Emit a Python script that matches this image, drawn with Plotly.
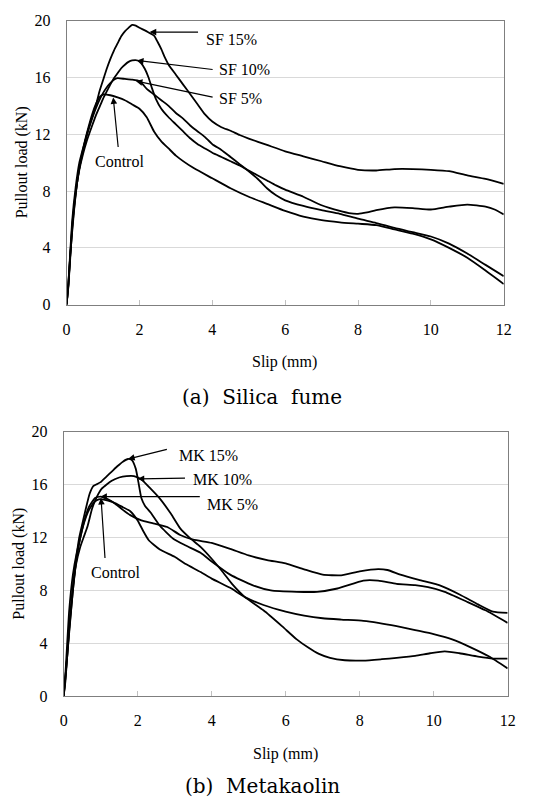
import plotly.graph_objects as go

# ---------------- (a) Silica fume ----------------
sf_ctrl_x = [0, 0.05, 0.1, 0.2, 0.3, 0.4, 0.5, 0.6, 0.7, 0.8, 0.9, 1.0, 1.2, 1.4, 1.6, 1.8, 2.0, 2.2, 2.4, 2.6,
             2.8, 3.0, 3.5, 4.0, 4.5, 5.0, 5.5, 6.0, 6.5, 7.0, 7.5, 8.0, 8.5, 9.0, 9.5, 10.0, 10.5, 11.0, 11.5, 12.0]
sf_ctrl_y = [0, 1.5, 3.5, 6.5, 8.8, 10.3, 11.5, 12.5, 13.4, 14.1, 14.6, 14.8, 14.75, 14.6, 14.4, 14.1, 13.8, 13.2,
             12.2, 11.5, 11.0, 10.5, 9.6, 8.9, 8.2, 7.6, 7.1, 6.6, 6.2, 5.95, 5.8, 5.7, 5.6, 5.3, 5.0, 4.6, 4.0,
             3.3, 2.4, 1.45]

sf5_x = [0, 0.05, 0.15, 0.25, 0.35, 0.45, 0.55, 0.7, 0.8, 0.9, 1.0, 1.1, 1.2, 1.3, 1.4, 1.6, 1.8, 2.0, 2.1, 2.2,
         2.4, 2.6, 2.8, 3.0, 3.2, 3.4, 3.6, 3.8, 4.0, 4.25, 4.5, 4.75, 5.0, 5.25, 5.5, 5.75, 6.0, 6.5, 7.0, 7.5,
         8.0, 8.5, 9.0, 9.5, 10.0, 10.5, 11.0, 11.5, 12.0]
sf5_y = [0, 1.3, 5.2, 7.8, 9.6, 10.8, 11.9, 13.1, 13.8, 14.4, 14.9, 15.3, 15.6, 15.85, 15.95, 15.9, 15.85, 15.75,
         15.5, 15.2, 14.8, 14.4, 14.0, 13.5, 13.1, 12.6, 12.2, 11.8, 11.3, 10.9, 10.4, 9.9, 9.4, 8.85, 8.2, 7.7,
         7.35, 6.95, 6.65, 6.4, 6.05, 5.75, 5.4, 5.1, 4.8, 4.3, 3.6, 2.8, 2.0]

sf10_x = [0, 0.05, 0.15, 0.25, 0.35, 0.45, 0.55, 0.7, 0.8, 0.9, 1.0, 1.1, 1.2, 1.3, 1.4, 1.5, 1.6, 1.7, 1.8, 1.95,
          2.05, 2.15, 2.25, 2.35, 2.45, 2.6, 2.8, 3.0, 3.2, 3.4, 3.6, 3.8, 4.0, 4.25, 4.5, 4.75, 5.0, 5.25, 5.5,
          5.75, 6.0, 6.5, 7.0, 7.5, 7.75, 8.0, 8.25, 8.5, 9.0, 9.5, 10.0, 10.5, 11.0, 11.5, 11.75, 12.0]
sf10_y = [0, 1.4, 5.4, 7.9, 9.5, 10.6, 11.5, 12.6, 13.3, 13.9, 14.5, 15.0, 15.5, 15.95, 16.3, 16.65, 16.9, 17.1,
          17.2, 17.2, 17.0, 16.6, 16.0, 15.2, 14.5, 13.8, 13.2, 12.7, 12.2, 11.7, 11.3, 11.0, 10.7, 10.4, 10.1,
          9.8, 9.45, 9.1, 8.75, 8.4, 8.1, 7.6, 7.0, 6.6, 6.45, 6.4, 6.5, 6.65, 6.85, 6.8, 6.7, 6.9, 7.05, 6.9,
          6.7, 6.35]

sf15_x = [0, 0.05, 0.15, 0.25, 0.35, 0.45, 0.55, 0.65, 0.8, 0.9, 1.0, 1.1, 1.2, 1.3, 1.4, 1.5, 1.6, 1.7, 1.8, 1.9,
          2.0, 2.2, 2.4, 2.5, 2.6, 2.7, 2.8, 3.0, 3.2, 3.4, 3.6, 3.8, 4.0, 4.25, 4.5, 4.75, 5.0, 5.5, 6.0, 6.5,
          7.0, 7.5, 8.0, 8.5, 9.0, 9.5, 10.0, 10.5, 11.0, 11.5, 12.0]
sf15_y = [0, 1.5, 5.8, 8.3, 10.0, 11.0, 11.9, 12.8, 14.0, 15.0, 15.8, 16.6, 17.3, 17.9, 18.4, 18.9, 19.25, 19.5,
          19.7, 19.65, 19.5, 19.25, 18.95, 18.5, 18.0, 17.4, 16.9, 16.2, 15.5, 14.8, 14.1, 13.4, 12.9, 12.5,
          12.25, 11.95, 11.7, 11.25, 10.8, 10.45, 10.1, 9.75, 9.5, 9.45, 9.55, 9.55, 9.5, 9.4, 9.1, 8.85, 8.5]

# ---------------- (b) Metakaolin ----------------
mk_ctrl_x = [0, 0.05, 0.15, 0.25, 0.35, 0.45, 0.55, 0.65, 0.75, 0.85, 0.95, 1.05, 1.2, 1.4, 1.6, 1.8, 2.0, 2.15,
             2.3, 2.6, 3.0, 3.3, 3.7, 4.0, 4.5, 4.9, 5.4, 6.0, 6.5, 7.0, 7.5, 8.1, 8.5, 9.0, 9.5, 10.0, 10.5,
             11.0, 11.5, 12.0]
mk_ctrl_y = [0, 1.5, 5.0, 8.0, 10.4, 12.0, 13.1, 13.9, 14.4, 14.75, 14.9, 14.9, 14.8, 14.6, 14.3, 14.0, 13.3,
             12.5, 11.8, 11.1, 10.55, 10.0, 9.4, 8.9, 8.2, 7.5, 6.9, 6.4, 6.1, 5.9, 5.8, 5.7, 5.55, 5.3, 5.0,
             4.7, 4.3, 3.7, 3.0, 2.1]

mk5_x = [0, 0.05, 0.15, 0.25, 0.35, 0.45, 0.55, 0.68, 0.85, 1.0, 1.2, 1.4, 1.6, 1.8, 2.1, 2.4, 2.8, 3.15, 3.5,
         4.0, 4.5, 5.0, 5.5, 6.0, 6.5, 7.0, 7.5, 8.0, 8.5, 8.75, 9.1, 9.6, 10.2, 10.7, 11.2, 11.6, 12.0]
mk5_y = [0, 1.8, 6.5, 9.2, 10.8, 12.0, 13.2, 14.3, 15.0, 15.1, 14.9, 14.55, 14.1, 13.7, 13.3, 13.1, 12.8, 12.2,
         11.85, 11.6, 11.15, 10.65, 10.3, 10.05, 9.6, 9.2, 9.15, 9.45, 9.62, 9.55, 9.2, 8.8, 8.35, 7.7, 6.95,
         6.4, 6.3]

mk10_x = [0, 0.05, 0.15, 0.25, 0.33, 0.45, 0.55, 0.65, 0.77, 0.9, 1.03, 1.3, 1.5, 1.7, 1.9, 2.1, 2.35, 2.6, 2.9,
          3.15, 3.4, 3.7, 4.0, 4.3, 4.55, 4.9, 5.4, 5.9, 6.3, 6.6, 6.9, 7.2, 7.6, 8.1, 8.6, 9.0, 9.5, 9.9, 10.3,
          10.7, 11.2, 11.6, 12.0]
mk10_y = [0, 1.2, 5.2, 8.3, 9.9, 11.3, 12.1, 12.9, 14.2, 15.1, 15.7, 16.3, 16.55, 16.65, 16.65, 16.4, 15.7,
          14.95, 13.8, 12.7, 12.0, 11.3, 10.4, 9.4, 8.5, 7.5, 6.5, 5.3, 4.3, 3.7, 3.2, 2.9, 2.72, 2.7, 2.8, 2.9,
          3.05, 3.25, 3.4, 3.25, 3.0, 2.85, 2.85]

mk15_x = [0, 0.05, 0.15, 0.25, 0.33, 0.42, 0.5, 0.6, 0.7, 0.8, 0.9, 1.0, 1.15, 1.3, 1.45, 1.6, 1.74, 1.85, 1.95,
          2.02, 2.1, 2.2, 2.35, 2.6, 2.97, 3.3, 3.7, 4.0, 4.5, 5.1, 5.6, 6.3, 6.85, 7.4, 8.1, 8.5, 9.0, 9.5,
          9.85, 10.3, 10.9, 11.4, 12.0]
mk15_y = [0, 1.5, 4.8, 8.0, 10.2, 12.0, 13.0, 14.2, 15.3, 15.9, 16.05, 16.2, 16.6, 17.0, 17.4, 17.75, 17.95,
          17.85, 17.2, 16.2, 15.0, 14.4, 13.9, 12.9, 11.9, 11.4, 10.85, 10.2, 9.2, 8.4, 8.0, 7.9, 7.9, 8.15,
          8.75, 8.75, 8.5, 8.4, 8.25, 7.9, 7.15, 6.5, 5.55]

x_ticks = [0, 2, 4, 6, 8, 10, 12]
y_ticks = [0, 4, 8, 12, 16, 20]
x_title = "Slip (mm)"
y_title = "Pullout load (kN)"
captions = ["(a)\u00a0 Silica\u00a0 fume", "(b)\u00a0 Metakaolin"]

W, H = 544, 808
SERIF = "Liberation Serif"

fig = go.Figure()

top_series = [(sf_ctrl_x, sf_ctrl_y, "Control"), (sf5_x, sf5_y, "SF 5%"),
              (sf10_x, sf10_y, "SF 10%"), (sf15_x, sf15_y, "SF 15%")]
bot_series = [(mk_ctrl_x, mk_ctrl_y, "Control"), (mk5_x, mk5_y, "MK 5%"),
              (mk10_x, mk10_y, "MK 10%"), (mk15_x, mk15_y, "MK 15%")]

for xs, ys, nm in top_series:
    fig.add_trace(go.Scatter(x=xs, y=ys, name=nm, mode="lines", xaxis="x", yaxis="y",
                             line=dict(color="black", width=1.8, shape="spline", smoothing=0.5),
                             showlegend=False))
for xs, ys, nm in bot_series:
    fig.add_trace(go.Scatter(x=xs, y=ys, name=nm, mode="lines", xaxis="x2", yaxis="y2",
                             line=dict(color="black", width=1.8, shape="spline", smoothing=0.5),
                             showlegend=False))


def px_x(p):
    return p / W


def px_y(p):
    return 1 - p / H


axis_common = dict(showline=True, mirror=True, linecolor="#7f7f7f", linewidth=1,
                   tickfont=dict(family=SERIF, size=16, color="black"), zeroline=False)

fig.update_layout(
    width=W, height=H, autosize=False,
    margin=dict(l=0, r=0, t=0, b=0),
    paper_bgcolor="white", plot_bgcolor="white",
    xaxis=dict(domain=[px_x(64), px_x(511)], range=[0, 12], anchor="y", tickvals=x_ticks,
               showgrid=False, ticks="inside", ticklen=5, tickcolor="#c0c0c0",
               ticklabelstandoff=10, **axis_common),
    yaxis=dict(domain=[px_y(303), px_y(13)], range=[0, 20], anchor="x", tickvals=y_ticks,
               showgrid=True, gridcolor="#d9d9d9", gridwidth=1, ticks="",
               ticklabelstandoff=12, **axis_common),
    xaxis2=dict(domain=[px_x(61), px_x(515)], range=[0, 12], anchor="y2", tickvals=x_ticks,
                showgrid=False, ticks="inside", ticklen=5, tickcolor="#c0c0c0",
                ticklabelstandoff=10, **axis_common),
    yaxis2=dict(domain=[px_y(703), px_y(433)], range=[0, 20], anchor="x2", tickvals=y_ticks,
                showgrid=True, gridcolor="#d9d9d9", gridwidth=1, ticks="",
                ticklabelstandoff=12, **axis_common),
)

ann = []
lab_font = dict(family=SERIF, size=16, color="black")

# arrows: (xref, yref, tip_x, tip_y, tail_x, tail_y)
arrows = [
    ("x", "y", 2.28, 19.2, 3.65, 19.2),
    ("x", "y", 1.93, 17.2, 4.05, 16.55),
    ("x", "y", 1.90, 15.75, 4.05, 14.6),
    ("x", "y", 1.28, 14.6, 1.42, 11.0),
    ("x2", "y2", 1.74, 17.95, 2.83, 18.7),
    ("x2", "y2", 2.0, 16.45, 3.32, 16.5),
    ("x2", "y2", 0.99, 15.1, 3.72, 15.1),
    ("x2", "y2", 1.01, 15.0, 1.12, 10.35),
]
for xr, yr, tx, ty, ax_, ay_ in arrows:
    ann.append(dict(xref=xr, yref=yr, axref=xr, ayref=yr, x=tx, y=ty, ax=ax_, ay=ay_, text="",
                    showarrow=True, arrowhead=2, arrowsize=1.1, arrowwidth=1.2, arrowcolor="black"))

labels = [
    ("x", "y", 3.76, 18.7, "SF 15%", "left"),
    ("x", "y", 4.13, 16.55, "SF 10%", "left"),
    ("x", "y", 4.13, 14.55, "SF 5%", "left"),
    ("x", "y", 1.46, 10.1, "Control", "center"),
    ("x2", "y2", 3.07, 18.24, "MK 15%", "left"),
    ("x2", "y2", 3.43, 16.4, "MK 10%", "left"),
    ("x2", "y2", 3.81, 14.54, "MK 5%", "left"),
    ("x2", "y2", 1.39, 9.36, "Control", "center"),
]
for xr, yr, lx, ly, txt, xa in labels:
    ann.append(dict(xref=xr, yref=yr, x=lx, y=ly, text=txt, showarrow=False, xanchor=xa,
                    yanchor="middle", font=lab_font))

# axis titles
ann.append(dict(xref="paper", yref="paper", x=px_x(18), y=px_y(158), text=y_title, textangle=-90,
                showarrow=False, xanchor="center", yanchor="middle", font=lab_font))
ann.append(dict(xref="paper", yref="paper", x=px_x(287), y=px_y(362), text=x_title,
                showarrow=False, xanchor="center", yanchor="middle", font=lab_font))
ann.append(dict(xref="paper", yref="paper", x=px_x(15), y=px_y(568), text=y_title, textangle=-90,
                showarrow=False, xanchor="center", yanchor="middle", font=lab_font))
ann.append(dict(xref="paper", yref="paper", x=px_x(288), y=px_y(762), text=x_title,
                showarrow=False, xanchor="center", yanchor="middle", font=lab_font))

# captions
cap_font = dict(family="DejaVu Serif", size=20, color="black")
ann.append(dict(xref="paper", yref="paper", x=px_x(264), y=px_y(397), text=captions[0],
                showarrow=False, xanchor="center", yanchor="middle", font=cap_font))
ann.append(dict(xref="paper", yref="paper", x=px_x(264), y=px_y(795), text=captions[1],
                showarrow=False, xanchor="center", yanchor="middle", font=cap_font))

fig.update_layout(annotations=ann)

reset_js = ("var s=document.createElement('style');"
            "s.textContent='html,body{margin:0!important;padding:0!important;overflow:hidden!important;}';"
            "document.head.appendChild(s);")
fig.write_html("out.html", config={"displayModeBar": False}, post_script=reset_js)
